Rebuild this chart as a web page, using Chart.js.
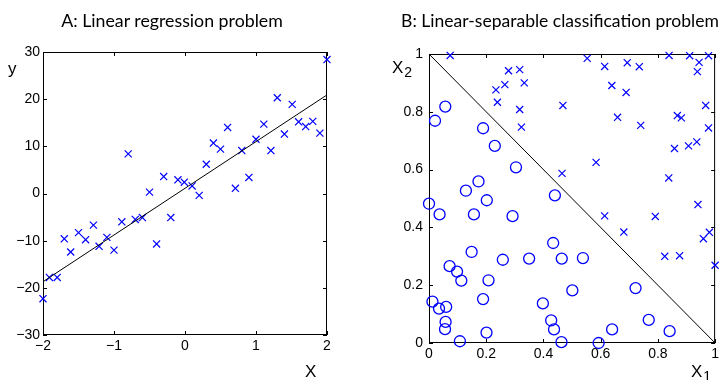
<!DOCTYPE html>
<html>
<head>
<meta charset="utf-8">
<script src="https://cdn.jsdelivr.net/npm/chart.js@4/dist/chart.umd.min.js"></script>
<style>
  body { margin: 0; background: #fff; }
  #wrap { position: relative; width: 722px; height: 380px; overflow: hidden; font-family: "Liberation Sans", Arial, sans-serif; }
  .box { position: absolute; top: 0; height: 380px; width: 361px; }
  .title { position: absolute; font-family: Lato, "Open Sans", sans-serif; font-size: 16px; color: #000; white-space: nowrap; transform: translate(-50%, -50%); }
  .lab { position: absolute; font-size: 17px; color: #000; white-space: nowrap; line-height: 1; }
  .lab sub { font-size: 14px; position: relative; top: 4px; vertical-align: baseline; margin-left: 1px; }
</style>
</head>
<body>
<div id="wrap">
  <div class="box" style="left:0"><canvas id="chartA"></canvas></div>
  <div class="box" style="left:361px"><canvas id="chartB"></canvas></div>
  <div class="title" data-w="222" style="left:172px; top:20px">A: Linear regression problem</div>
  <div class="title" data-w="318" style="left:560px; top:20px">B: Linear-separable classification problem</div>
  <div class="lab" style="left:8px; top:60px">y</div>
  <div class="lab" style="left:305px; top:363px">X</div>
  <div class="lab" style="left:392px; top:59px">X<sub>2</sub></div>
  <div class="lab" style="left:691px; top:363px">X<sub>1</sub></div>
</div>
<script>
// A: regression data
const regX = [-2.0, -1.91, -1.80, -1.70, -1.61, -1.50, -1.40, -1.29, -1.21, -1.10,
  -1.00, -0.89, -0.80, -0.70, -0.60, -0.50, -0.40, -0.30, -0.20, -0.10,
  -0.01, 0.10, 0.20, 0.30, 0.40, 0.50, 0.60, 0.71, 0.80, 0.90,
  1.00, 1.11, 1.21, 1.30, 1.40, 1.51, 1.60, 1.70, 1.80, 1.90, 2.00];
const regY = [-22.3, -17.8, -17.8, -9.6, -12.4, -8.3, -9.8, -6.7, -11.2, -9.3,
  -12.0, -6.0, 8.4, -5.5, -5.1, 0.3, -10.7, 3.6, -5.1, 2.9,
  2.4, 1.6, -0.4, 6.2, 10.7, 9.4, 14.0, 1.1, 9.1, 3.4,
  11.5, 14.7, 9.1, 20.3, 12.6, 18.9, 15.2, 14.2, 15.3, 12.8, 28.4];
const fitX = [-2, 2];
const fitY = [-18.7, 20.9];
const regXTicks = ['\u22122', '\u22121', '0', '1', '2'];
const regYTicks = ['\u221230', '\u221220', '\u221210', '0', '10', '20', '30'];

// B: classification data (crosses = class 1, circles = class 0)
const crossX = [0.074, 0.234, 0.265, 0.278, 0.317, 0.333, 0.239, 0.317, 0.323, 0.468,
  0.465, 0.553, 0.614, 0.639, 0.693, 0.689, 0.735, 0.659, 0.584, 0.740,
  0.839, 0.911, 0.944, 0.977, 0.938, 0.967, 0.868, 0.882, 0.858, 0.907,
  0.936, 0.977, 0.838, 0.614, 0.681, 0.791, 0.940, 0.959, 0.980, 0.824,
  0.876, 1.000];
const crossY = [0.995, 0.876, 0.894, 0.942, 0.946, 0.900, 0.833, 0.808, 0.747, 0.822,
  0.587, 0.985, 0.957, 0.891, 0.970, 0.867, 0.956, 0.781, 0.625, 0.753,
  0.995, 0.994, 0.971, 0.994, 0.939, 0.822, 0.787, 0.779, 0.673, 0.682,
  0.696, 0.744, 0.571, 0.440, 0.384, 0.438, 0.479, 0.361, 0.383, 0.300,
  0.302, 0.269];
const circX = [0.057, 0.021, 0.189, 0.230, 0.304, 0.173, 0.129, 0.440, 0.202, 0.000,
  0.037, 0.157, 0.292, 0.434, 0.149, 0.258, 0.350, 0.464, 0.538, 0.072,
  0.098, 0.113, 0.208, 0.501, 0.722, 0.012, 0.035, 0.060, 0.189, 0.398,
  0.058, 0.056, 0.427, 0.437, 0.201, 0.108, 0.463, 0.593, 0.640, 0.768,
  0.841];
const circY = [0.818, 0.769, 0.743, 0.682, 0.608, 0.559, 0.527, 0.511, 0.494, 0.482,
  0.445, 0.445, 0.439, 0.346, 0.315, 0.288, 0.292, 0.292, 0.294, 0.266,
  0.247, 0.216, 0.217, 0.182, 0.190, 0.143, 0.119, 0.125, 0.152, 0.137,
  0.073, 0.048, 0.078, 0.047, 0.036, 0.006, 0.003, 0.000, 0.047, 0.080,
  0.041];
const boundX = [0, 1];
const boundY = [1, 0];
const unitTicks = ['0', '0.2', '0.4', '0.6', '0.8', '1'];

const BLUE = 'rgb(0,0,255)';
Chart.defaults.font.family = '"Liberation Sans", Arial, sans-serif';
Chart.defaults.font.size = 14;
Chart.defaults.color = '#000';

// titles: fit font size to the width seen in the picture
document.querySelectorAll('.title').forEach(el => {
  const w = +el.dataset.w;
  el.style.fontSize = (16 * w / el.offsetWidth).toFixed(2) + 'px';
});

const toPts = (xs, ys) => xs.map((x, i) => ({ x, y: ys[i] }));

// matlab style box with inward ticks
const boxPlugin = {
  id: 'boxTicks',
  beforeDatasetsDraw(chart) {
    const { ctx, chartArea: a, scales } = chart;
    const len = 4;
    ctx.save();
    ctx.strokeStyle = '#000';
    ctx.lineWidth = 1;
    ctx.strokeRect(a.left + 0.5, a.top + 0.5, a.right - a.left - 1, a.bottom - a.top - 1);
    ctx.beginPath();
    scales.x.ticks.forEach(t => {
      const px = Math.round(scales.x.getPixelForValue(t.value)) + 0.5;
      ctx.moveTo(px, a.bottom); ctx.lineTo(px, a.bottom - len);
      ctx.moveTo(px, a.top); ctx.lineTo(px, a.top + len);
    });
    scales.y.ticks.forEach(t => {
      const py = Math.round(scales.y.getPixelForValue(t.value)) + 0.5;
      ctx.moveTo(a.left, py); ctx.lineTo(a.left + len, py);
      ctx.moveTo(a.right, py); ctx.lineTo(a.right - len, py);
    });
    ctx.stroke();
    ctx.restore();
  }
};

function makeChart(id, datasets, o) {
  return new Chart(document.getElementById(id), {
    type: 'scatter',
    data: { datasets },
    options: {
      responsive: true,
      maintainAspectRatio: false,
      animation: false,
      layout: { padding: o.padding },
      plugins: { legend: { display: false }, tooltip: { enabled: false } },
      scales: {
        x: {
          type: 'linear', min: o.xMin, max: o.xMax,
          grid: { display: false, drawTicks: false }, border: { display: false },
          afterFit: s => { s.height = o.xH; },
          afterBuildTicks: s => { s.ticks = o.xVals.map(v => ({ value: v })); },
          ticks: { padding: o.xPad, maxRotation: 0, autoSkip: false, callback: (v, i) => o.xLabels[i] }
        },
        y: {
          type: 'linear', min: o.yMin, max: o.yMax,
          grid: { display: false, drawTicks: false }, border: { display: false },
          afterFit: s => { s.width = o.yW; },
          afterBuildTicks: s => { s.ticks = o.yVals.map(v => ({ value: v })); },
          ticks: { padding: o.yPad, autoSkip: false, callback: (v, i) => o.yLabels[i] }
        }
      }
    },
    plugins: [boxPlugin]
  });
}

makeChart('chartA', [
  {
    type: 'line', data: toPts(fitX, fitY), borderColor: '#000', borderWidth: 1,
    pointRadius: 0, fill: false, clip: false
  },
  {
    data: toPts(regX, regY), pointStyle: 'crossRot', pointRadius: 5,
    borderColor: BLUE, backgroundColor: BLUE, borderWidth: 1.2, clip: false
  }
], {
  padding: { left: 0, top: 52, right: 34, bottom: 0 },
  xMin: -2, xMax: 2, yMin: -30, yMax: 30, xH: 45, yW: 43, yPad: 3, xPad: 3,
  xVals: [-2, -1, 0, 1, 2], xLabels: regXTicks,
  yVals: [-30, -20, -10, 0, 10, 20, 30], yLabels: regYTicks
});

makeChart('chartB', [
  {
    type: 'line', data: toPts(boundX, boundY), borderColor: '#000', borderWidth: 1,
    pointRadius: 0, fill: false, clip: false
  },
  {
    data: toPts(crossX, crossY), pointStyle: 'crossRot', pointRadius: 5,
    borderColor: BLUE, backgroundColor: BLUE, borderWidth: 1.2, clip: false
  },
  {
    data: toPts(circX, circY), pointStyle: 'circle', pointRadius: 5.5,
    borderColor: BLUE, backgroundColor: 'rgba(0,0,0,0)', borderWidth: 1.3, clip: false
  }
], {
  padding: { left: 0, top: 54, right: 5, bottom: 0 },
  xMin: 0, xMax: 1, yMin: 0, yMax: 1, xH: 37, yW: 68, yPad: 6, xPad: 3,
  xVals: [0, 0.2, 0.4, 0.6, 0.8, 1], xLabels: unitTicks,
  yVals: [0, 0.2, 0.4, 0.6, 0.8, 1], yLabels: unitTicks
});
</script>
</body>
</html>
